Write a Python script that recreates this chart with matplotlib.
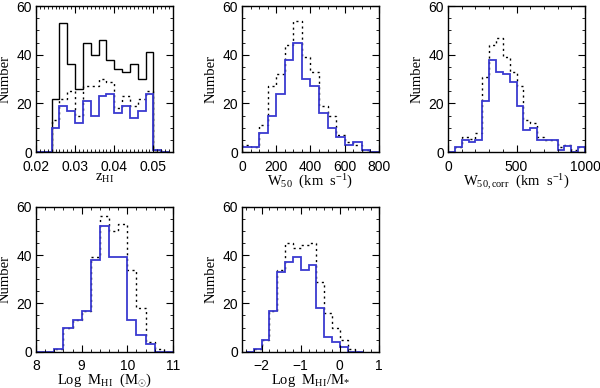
import numpy as np
import matplotlib
matplotlib.use('Agg')
import matplotlib.pyplot as plt
from matplotlib.ticker import MultipleLocator, FormatStrFormatter

# panel 1: z_HI
z_lo, z_w = 0.020, 0.002
z_all = [0, 0, 22, 53, 36, 26, 45, 40, 46, 38, 34, 33, 36, 30, 41, 1, 0]
z_dot = [0, 0, 13, 22, 25, 15, 27, 27, 30, 29, 18, 23, 19, 22, 25, 1, 0]
z_blue = [0, 0, 10, 19, 17, 12, 21, 15, 23, 24, 16, 19, 14, 17, 24, 1, 0]

# panel 2: W50
w_lo, w_w = 0, 50
w_dot = [3, 2, 11, 27, 32, 44, 54, 39, 33, 19, 15, 7, 4, 3, 1, 0]
w_blue = [2, 2, 8, 15, 24, 38, 45, 30, 27, 16, 10, 6, 3, 4, 1, 0]

# panel 3: W50,corr
wc_lo, wc_w = 0, 50
wc_dot = [0, 2, 6, 5.5, 8, 31, 44, 47, 39, 33, 27, 13, 12, 6, 5, 5, 2, 3, 1, 2]
wc_blue = [0, 2, 5, 4, 5, 21, 38, 33, 32, 29, 19, 9, 10, 5, 5, 5, 1, 2.5, 0, 2]

# panel 4: log MHI
m_lo, m_w = 8.0, 0.2
m_dot = [0, 0, 1, 10, 13, 17, 39, 56, 50, 53, 34, 18, 4, 1, 0]
m_blue = [0, 0, 1, 10, 13, 17, 38, 52, 39, 39, 13, 7, 3, 0, 0]

# panel 5: log MHI/M*
f_lo, f_w = -2.4, 0.2
f_dot = [0, 1, 5, 17, 34, 45, 43, 44, 45, 29, 16, 10, 5, 1, 0]
f_blue = [0, 1, 5, 17, 33, 37, 39, 34, 36, 18, 6, 4, 2, 0, 0]

BLUE = '#3a3ad0'
plt.rcParams['mathtext.fontset'] = 'custom'
plt.rcParams['mathtext.rm'] = 'Liberation Serif'
plt.rcParams['mathtext.it'] = 'Liberation Serif:italic'
plt.rcParams['mathtext.sf'] = 'Liberation Serif'
plt.rcParams['font.family'] = 'Liberation Sans'
lab_font = dict(family='Liberation Serif', size=10.5)


def edges(lo, w, n):
    return lo + w * np.arange(n + 1)


def style(ax, xlim, xmaj, xmin, xlabel):
    ax.set_xlim(*xlim)
    ax.set_ylim(0, 60)
    ax.xaxis.set_major_locator(MultipleLocator(xmaj))
    ax.xaxis.set_minor_locator(MultipleLocator(xmin))
    ax.yaxis.set_major_locator(MultipleLocator(20))
    ax.yaxis.set_minor_locator(MultipleLocator(5))
    ax.tick_params(which='both', direction='in', top=True, right=True, labelsize=10)
    ax.tick_params(which='major', length=5, width=0.8)
    ax.tick_params(which='minor', length=2.5, width=0.6)
    ax.tick_params(axis='x', which='major', pad=5.5)
    ax.tick_params(axis='y', which='major', pad=3)
    for s in ax.spines.values():
        s.set_linewidth(1.0)
    ax.set_xlabel(xlabel, fontdict=lab_font, labelpad=-1)
    ax.set_ylabel('Number', fontdict=lab_font, labelpad=3)


def hists(ax, lo, w, dot, blue, solid=None):
    if solid is not None:
        ax.stairs(solid, edges(lo, w, len(solid)), color='black', lw=1.0)
    ax.stairs(dot, edges(lo, w, len(dot)), color='black', lw=1.0, ls=(0, (1.5, 2.5)))
    ax.stairs(blue, edges(lo, w, len(blue)), color=BLUE, lw=1.3)


fig = plt.figure(figsize=(6, 3.88), dpi=100)
w_ax, h_top, h_bot = 0.2283, 0.376, 0.3737
ax1 = fig.add_axes([0.06, 0.6082, w_ax, h_top])
ax2 = fig.add_axes([0.4033, 0.6082, w_ax, h_top])
ax3 = fig.add_axes([0.7467, 0.6082, w_ax, h_top])
ax4 = fig.add_axes([0.06, 0.0935, w_ax, h_bot])
ax5 = fig.add_axes([0.4033, 0.0935, w_ax, h_bot])

hists(ax1, z_lo, z_w, z_dot, z_blue, solid=z_all)
style(ax1, (0.02, 0.055), 0.01, 0.001, r'z$_{\rm HI}$')
ax1.xaxis.set_major_formatter(FormatStrFormatter('%.2f'))

hists(ax2, w_lo, w_w, w_dot, w_blue)
style(ax2, (0, 800), 200, 50, r'W$_{50}$  (km  s$^{-1}$)')

hists(ax3, wc_lo, wc_w, wc_dot, wc_blue)
style(ax3, (0, 1000), 500, 100, r'W$_{50,\rm corr}$  (km  s$^{-1}$)')

hists(ax4, m_lo, m_w, m_dot, m_blue)
style(ax4, (8, 11), 1, 0.2, r'Log  M$_{\rm HI}$  (M$_{\odot}$)')

hists(ax5, f_lo, f_w, f_dot, f_blue)
style(ax5, (-2.5, 1), 1, 0.2, r'Log  M$_{\rm HI}$/M$_{*}$')

fig.savefig('out.png', dpi=100)
